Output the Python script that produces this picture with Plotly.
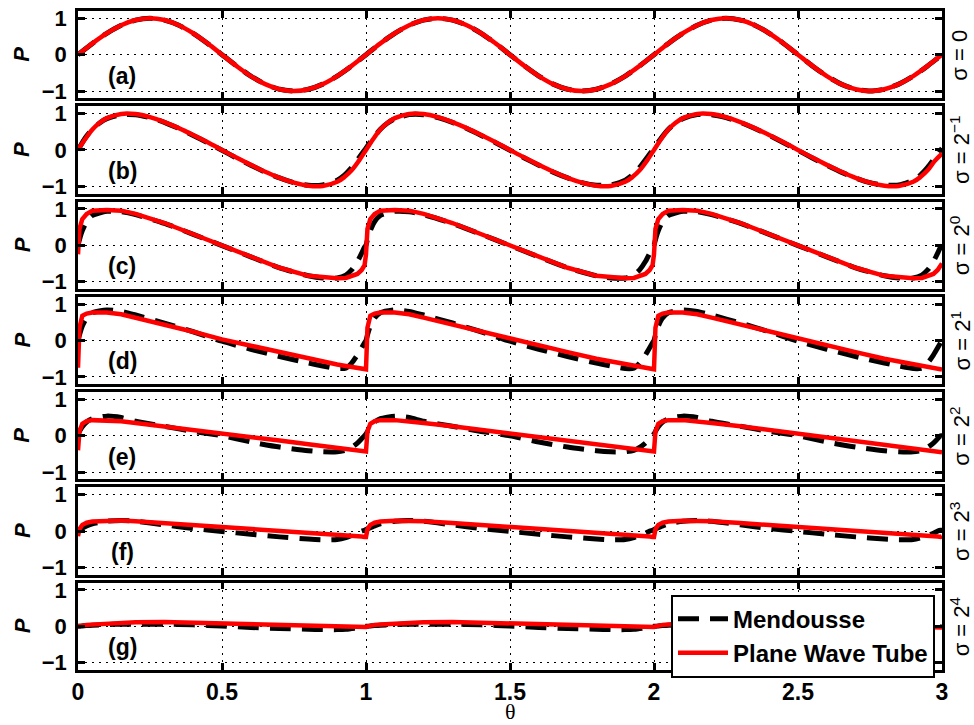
import plotly.graph_objects as go
from plotly.subplots import make_subplots

# ---------------- data ----------------
THETA_SMOOTH = [0, 0.025, 0.05, 0.075, 0.1, 0.15, 0.2, 0.25, 0.3, 0.35, 0.4, 0.45, 0.5, 0.55, 0.6, 0.65, 0.7, 0.75, 0.8, 0.85, 0.9, 0.925, 0.95, 0.975,
                1, 1.025, 1.05, 1.075, 1.1, 1.15, 1.2, 1.25, 1.3, 1.35, 1.4, 1.45, 1.5, 1.55, 1.6, 1.65, 1.7, 1.75, 1.8, 1.85, 1.9, 1.925, 1.95, 1.975,
                2, 2.025, 2.05, 2.075, 2.1, 2.15, 2.2, 2.25, 2.3, 2.35, 2.4, 2.45, 2.5, 2.55, 2.6, 2.65, 2.7, 2.75, 2.8, 2.85, 2.9, 2.925, 2.95, 2.975, 3]

THETA_SHOCK = [0, 0.005, 0.015, 0.03, 0.05, 0.1, 0.15, 0.2, 0.3, 0.4, 0.5, 0.6, 0.7, 0.8, 0.85, 0.9, 0.93, 0.95, 0.97, 0.985, 0.995,
               1, 1.005, 1.015, 1.03, 1.05, 1.1, 1.15, 1.2, 1.3, 1.4, 1.5, 1.6, 1.7, 1.8, 1.85, 1.9, 1.93, 1.95, 1.97, 1.985, 1.995,
               2, 2.005, 2.015, 2.03, 2.05, 2.1, 2.15, 2.2, 2.3, 2.4, 2.5, 2.6, 2.7, 2.8, 2.85, 2.9, 2.93, 2.95, 2.97, 2.985, 2.995, 3]

# (a) sigma = 0
P_A_MENDOUSSE = [0, 0.156, 0.309, 0.454, 0.588, 0.809, 0.951, 1.0, 0.951, 0.809, 0.588, 0.309, 0, -0.309, -0.588, -0.809, -0.951, -1.0, -0.951, -0.809, -0.588, -0.454, -0.309, -0.156,
                 0, 0.156, 0.309, 0.454, 0.588, 0.809, 0.951, 1.0, 0.951, 0.809, 0.588, 0.309, 0, -0.309, -0.588, -0.809, -0.951, -1.0, -0.951, -0.809, -0.588, -0.454, -0.309, -0.156,
                 0, 0.156, 0.309, 0.454, 0.588, 0.809, 0.951, 1.0, 0.951, 0.809, 0.588, 0.309, 0, -0.309, -0.588, -0.809, -0.951, -1.0, -0.951, -0.809, -0.588, -0.454, -0.309, -0.156, 0]
P_A_PWT = [0, 0.156, 0.309, 0.454, 0.588, 0.809, 0.951, 1.0, 0.951, 0.809, 0.588, 0.309, 0, -0.309, -0.588, -0.809, -0.951, -1.0, -0.951, -0.809, -0.588, -0.454, -0.309, -0.156,
           0, 0.156, 0.309, 0.454, 0.588, 0.809, 0.951, 1.0, 0.951, 0.809, 0.588, 0.309, 0, -0.309, -0.588, -0.809, -0.951, -1.0, -0.951, -0.809, -0.588, -0.454, -0.309, -0.156,
           0, 0.156, 0.309, 0.454, 0.588, 0.809, 0.951, 1.0, 0.951, 0.809, 0.588, 0.309, 0, -0.309, -0.588, -0.809, -0.951, -1.0, -0.951, -0.809, -0.588, -0.454, -0.309, -0.156, 0]

# (b) sigma = 2^-1
P_B_MENDOUSSE = [0.0, 0.33, 0.57, 0.74, 0.86, 0.97, 0.97, 0.89, 0.76, 0.59, 0.40, 0.20, -0.01, -0.22, -0.42, -0.61, -0.77, -0.90, -0.97, -0.96, -0.83, -0.69, -0.48, -0.22,
                 0.05, 0.33, 0.57, 0.74, 0.86, 0.97, 0.97, 0.89, 0.76, 0.59, 0.40, 0.20, -0.01, -0.22, -0.42, -0.61, -0.77, -0.90, -0.97, -0.96, -0.83, -0.69, -0.48, -0.22,
                 0.05, 0.33, 0.57, 0.74, 0.86, 0.97, 0.97, 0.89, 0.76, 0.59, 0.40, 0.20, -0.01, -0.22, -0.42, -0.61, -0.77, -0.90, -0.97, -0.96, -0.83, -0.69, -0.48, -0.22, 0.05]
P_B_PWT = [0, 0.30, 0.56, 0.745, 0.875, 0.99, 0.985, 0.90, 0.767, 0.60, 0.41, 0.21, 0, -0.21, -0.41, -0.60, -0.767, -0.90, -0.985, -0.99, -0.875, -0.745, -0.56, -0.30,
           0, 0.30, 0.56, 0.745, 0.875, 0.99, 0.985, 0.90, 0.767, 0.60, 0.41, 0.21, 0, -0.21, -0.41, -0.60, -0.767, -0.90, -0.985, -0.99, -0.875, -0.745, -0.56, -0.30,
           0, 0.30, 0.56, 0.745, 0.875, 0.99, 0.985, 0.90, 0.767, 0.60, 0.41, 0.21, 0, -0.21, -0.41, -0.60, -0.767, -0.90, -0.985, -0.99, -0.875, -0.745, -0.56, -0.30, -0.1]

# (c) sigma = 2^0
P_C_MENDOUSSE = [0.0, 0.15, 0.4, 0.65, 0.82, 0.93, 0.92, 0.84, 0.6, 0.3, -0.01, -0.32, -0.62, -0.84, -0.9, -0.9, -0.82, -0.68, -0.45, -0.22, -0.05,
                 0.0, 0.15, 0.4, 0.65, 0.82, 0.93, 0.92, 0.84, 0.6, 0.3, -0.01, -0.32, -0.62, -0.84, -0.9, -0.9, -0.82, -0.68, -0.45, -0.22, -0.05,
                 0.0, 0.15, 0.4, 0.65, 0.82, 0.93, 0.92, 0.84, 0.6, 0.3, -0.01, -0.32, -0.62, -0.84, -0.9, -0.9, -0.82, -0.68, -0.45, -0.22, -0.05, -0.02]
P_C_PWT = [-0.25, 0.45, 0.72, 0.86, 0.95, 0.97, 0.95, 0.86, 0.61, 0.31, 0.0, -0.31, -0.62, -0.84, -0.89, -0.91, -0.9, -0.86, -0.79, -0.68, -0.55,
           -0.25, 0.45, 0.72, 0.86, 0.95, 0.97, 0.95, 0.86, 0.61, 0.31, 0.0, -0.31, -0.62, -0.84, -0.89, -0.91, -0.9, -0.86, -0.79, -0.68, -0.55,
           -0.25, 0.45, 0.72, 0.86, 0.95, 0.97, 0.95, 0.86, 0.61, 0.31, 0.0, -0.31, -0.62, -0.84, -0.89, -0.91, -0.9, -0.86, -0.79, -0.68, -0.55, -0.5]

# (d) sigma = 2^1
P_D_MENDOUSSE = [0.0, 0.15, 0.4, 0.62, 0.76, 0.84, 0.8, 0.7, 0.48, 0.24, -0.02, -0.24, -0.44, -0.62, -0.7, -0.77, -0.76, -0.62, -0.4, -0.2, -0.06,
                 0.0, 0.15, 0.4, 0.62, 0.76, 0.84, 0.8, 0.7, 0.48, 0.24, -0.02, -0.24, -0.44, -0.62, -0.7, -0.77, -0.76, -0.62, -0.4, -0.2, -0.06,
                 0.0, 0.15, 0.4, 0.62, 0.76, 0.84, 0.8, 0.7, 0.48, 0.24, -0.02, -0.24, -0.44, -0.62, -0.7, -0.77, -0.76, -0.62, -0.4, -0.2, -0.06, 0.0]
P_D_PWT = [-0.75, 0.35, 0.68, 0.74, 0.77, 0.77, 0.72, 0.63, 0.44, 0.24, 0.03, -0.15, -0.32, -0.5, -0.58, -0.66, -0.7, -0.73, -0.76, -0.78, -0.79,
           -0.79, 0.35, 0.68, 0.74, 0.77, 0.77, 0.72, 0.63, 0.44, 0.24, 0.03, -0.15, -0.32, -0.5, -0.58, -0.66, -0.7, -0.73, -0.76, -0.78, -0.79,
           -0.79, 0.35, 0.68, 0.74, 0.77, 0.77, 0.72, 0.63, 0.44, 0.24, 0.03, -0.15, -0.32, -0.5, -0.58, -0.66, -0.7, -0.73, -0.76, -0.78, -0.79, -0.8]

# (e) sigma = 2^2
P_E_MENDOUSSE = [0.05, 0.12, 0.25, 0.38, 0.47, 0.54, 0.5, 0.4, 0.26, 0.12, 0.0, -0.17, -0.31, -0.41, -0.44, -0.44, -0.4, -0.32, -0.2, -0.08, 0.0,
                 0.05, 0.12, 0.25, 0.38, 0.47, 0.54, 0.5, 0.4, 0.26, 0.12, 0.0, -0.17, -0.31, -0.41, -0.44, -0.44, -0.4, -0.32, -0.2, -0.08, 0.0,
                 0.05, 0.12, 0.25, 0.38, 0.47, 0.54, 0.5, 0.4, 0.26, 0.12, 0.0, -0.17, -0.31, -0.41, -0.44, -0.44, -0.4, -0.32, -0.2, -0.08, 0.0, 0.0]
P_E_PWT = [-0.4, 0.12, 0.33, 0.4, 0.43, 0.43, 0.4, 0.35, 0.26, 0.16, 0.05, -0.04, -0.13, -0.23, -0.28, -0.33, -0.36, -0.38, -0.4, -0.42, -0.43,
           -0.43, 0.12, 0.33, 0.4, 0.43, 0.43, 0.4, 0.35, 0.26, 0.16, 0.05, -0.04, -0.13, -0.23, -0.28, -0.33, -0.36, -0.38, -0.4, -0.42, -0.43,
           -0.43, 0.12, 0.33, 0.4, 0.43, 0.43, 0.4, 0.35, 0.26, 0.16, 0.05, -0.04, -0.13, -0.23, -0.28, -0.33, -0.36, -0.38, -0.4, -0.42, -0.43, -0.45]

# (f) sigma = 2^3
P_F_MENDOUSSE = [0.02, 0.04, 0.08, 0.14, 0.2, 0.27, 0.29, 0.27, 0.17, 0.07, -0.01, -0.09, -0.16, -0.22, -0.24, -0.23, -0.18, -0.12, -0.06, 0.0, 0.02,
                 0.04, 0.06, 0.09, 0.14, 0.2, 0.27, 0.29, 0.27, 0.17, 0.07, -0.01, -0.09, -0.16, -0.22, -0.24, -0.23, -0.18, -0.12, -0.06, 0.0, 0.02,
                 0.04, 0.06, 0.09, 0.14, 0.2, 0.27, 0.29, 0.27, 0.17, 0.07, -0.01, -0.09, -0.16, -0.22, -0.24, -0.23, -0.18, -0.12, -0.06, 0.0, 0.02, 0.02]
P_F_PWT = [-0.14, 0.05, 0.17, 0.23, 0.26, 0.28, 0.29, 0.27, 0.22, 0.17, 0.12, 0.07, 0.02, -0.04, -0.07, -0.1, -0.12, -0.13, -0.14, -0.15, -0.16,
           -0.16, 0.05, 0.17, 0.23, 0.26, 0.28, 0.29, 0.27, 0.22, 0.17, 0.12, 0.07, 0.02, -0.04, -0.07, -0.1, -0.12, -0.13, -0.14, -0.15, -0.16,
           -0.16, 0.05, 0.17, 0.23, 0.26, 0.28, 0.29, 0.27, 0.22, 0.17, 0.12, 0.07, 0.02, -0.04, -0.07, -0.1, -0.12, -0.13, -0.14, -0.15, -0.16, -0.14]

# (g) sigma = 2^4
P_G_MENDOUSSE = [0.0, 0.0, 0.01, 0.02, 0.03, 0.05, 0.06, 0.06, 0.06, 0.04, 0.01, -0.03, -0.06, -0.08, -0.09, -0.09, -0.08, -0.06, -0.04, -0.02, -0.01,
                 0.0, 0.0, 0.01, 0.02, 0.03, 0.05, 0.06, 0.06, 0.06, 0.04, 0.01, -0.03, -0.06, -0.08, -0.09, -0.09, -0.08, -0.06, -0.04, -0.02, -0.01,
                 0.0, 0.0, 0.01, 0.02, 0.03, 0.05, 0.06, 0.06, 0.06, 0.04, 0.01, -0.03, -0.06, -0.08, -0.09, -0.09, -0.08, -0.06, -0.04, -0.02, -0.01, 0.0]
P_G_PWT = [0.0, 0.0, 0.02, 0.04, 0.05, 0.08, 0.1, 0.11, 0.12, 0.1, 0.07, 0.04, 0.02, 0.0, -0.01, -0.02, -0.03, -0.03, -0.03, -0.03, -0.03,
           -0.02, 0.0, 0.02, 0.04, 0.05, 0.08, 0.1, 0.11, 0.12, 0.1, 0.07, 0.04, 0.02, 0.0, -0.01, -0.02, -0.03, -0.03, -0.03, -0.03, -0.03,
           -0.02, 0.0, 0.02, 0.04, 0.05, 0.08, 0.1, 0.11, 0.12, 0.1, 0.07, 0.04, 0.02, 0.0, -0.01, -0.02, -0.03, -0.03, -0.03, -0.03, -0.03, -0.03]

PANEL_LABELS = ["(a)", "(b)", "(c)", "(d)", "(e)", "(f)", "(g)"]
SIGMA_LABELS = ["σ = 0", "σ = 2<sup>−1</sup>", "σ = 2<sup>0</sup>", "σ = 2<sup>1</sup>",
                "σ = 2<sup>2</sup>", "σ = 2<sup>3</sup>", "σ = 2<sup>4</sup>"]
X_TICKS = [0, 0.5, 1, 1.5, 2, 2.5, 3]
X_TICK_TEXT = ["0", "0.5", "1", "1.5", "2", "2.5", "3"]
Y_TICKS = [-1, 0, 1]
Y_TICK_TEXT = ["−1", "0", "1"]
SERIES_NAMES = ["Mendousse", "Plane Wave Tube"]

PANELS = [
    (THETA_SMOOTH, P_A_MENDOUSSE, P_A_PWT, "spline"),
    (THETA_SMOOTH, P_B_MENDOUSSE, P_B_PWT, "spline"),
    (THETA_SHOCK, P_C_MENDOUSSE, P_C_PWT, "linear"),
    (THETA_SHOCK, P_D_MENDOUSSE, P_D_PWT, "linear"),
    (THETA_SHOCK, P_E_MENDOUSSE, P_E_PWT, "linear"),
    (THETA_SHOCK, P_F_MENDOUSSE, P_F_PWT, "linear"),
    (THETA_SHOCK, P_G_MENDOUSSE, P_G_PWT, "linear"),
]

# ---------------- figure ----------------
W, H = 974, 725
ML, MR, MT, MB = 78, 32, 6, 55
PW = W - ML - MR  # 864
PH = H - MT - MB  # 664
GAP = 8

fig = make_subplots(rows=7, cols=1, shared_xaxes=True, vertical_spacing=GAP / PH)

FONT = "Liberation Sans"
for i, (th, pm, pp, shape) in enumerate(PANELS):
    r = i + 1
    fig.add_trace(go.Scatter(
        x=th, y=pm, mode="lines", name=SERIES_NAMES[0], legendgroup="m",
        showlegend=(r == 7),
        line=dict(color="black", width=5, dash="21px,11px", shape="spline", smoothing=0.6),
    ), row=r, col=1)
    fig.add_trace(go.Scatter(
        x=th, y=pp, mode="lines", name=SERIES_NAMES[1], legendgroup="p",
        showlegend=(r == 7),
        line=dict(color="#ff0000", width=4.5, shape=shape),
    ), row=r, col=1)

axis_common = dict(
    showgrid=True, gridcolor="black", griddash="2px,5px", gridwidth=1,
    showline=True, linecolor="black", linewidth=2.5, mirror="ticks",
    ticks="inside", ticklen=7, tickwidth=2.5, tickcolor="black",
    zeroline=False,
    tickfont=dict(family=FONT, size=22, color="black", weight="bold"),
)
fig.update_xaxes(range=[0, 3], tickvals=X_TICKS, ticktext=X_TICK_TEXT, **axis_common)
fig.update_yaxes(range=[-1.2, 1.2], tickvals=Y_TICKS, ticktext=Y_TICK_TEXT,
                 ticklabelstandoff=4, **axis_common)
fig.update_xaxes(ticklabelstandoff=0, tickfont=dict(size=23), row=7, col=1)

annotations = []
for i in range(7):
    yd = "y domain" if i == 0 else f"y{i+1} domain"
    xd = "x domain" if i == 0 else f"x{i+1} domain"
    annotations.append(dict(
        text=f"<b>{PANEL_LABELS[i]}</b>", xref=xd, yref=yd, x=0.051, y=0.26,
        showarrow=False, xanchor="center", yanchor="middle",
        font=dict(family=FONT, size=23, color="black")))
    annotations.append(dict(
        text="<b><i>P</i></b>", xref="paper", yref=yd, x=(22 - ML) / PW, y=0.5,
        showarrow=False, xanchor="center", yanchor="middle", textangle=-90,
        font=dict(family=FONT, size=22, color="black")))
    annotations.append(dict(
        text=SIGMA_LABELS[i], xref="paper", yref=yd, x=(960 - ML) / PW, y=0.5,
        showarrow=False, xanchor="center", yanchor="middle", textangle=-90,
        font=dict(family=FONT, size=22, color="black")))
annotations.append(dict(
    text="θ", xref="paper", yref="paper", x=(510 - ML) / PW, y=-(726 - (H - MB)) / PH,
    showarrow=False, xanchor="center", yanchor="bottom",
    font=dict(family="Liberation Serif", size=22, color="black")))

fig.update_layout(
    width=W, height=H,
    margin=dict(l=ML, r=MR, t=MT, b=MB),
    plot_bgcolor="white", paper_bgcolor="white",
    annotations=annotations,
    legend=dict(
        x=(935 - ML) / PW, xanchor="right",
        y=1 - (594 - MT) / PH, yanchor="top",
        bgcolor="white", bordercolor="black", borderwidth=2,
        font=dict(family=FONT, size=24, color="black", weight="bold"),
        itemwidth=50, tracegroupgap=0,
    ),
)

fig.write_html("out.html", config={"displayModeBar": False},
               post_script="document.body.style.margin='0';document.body.style.overflow='hidden';")
